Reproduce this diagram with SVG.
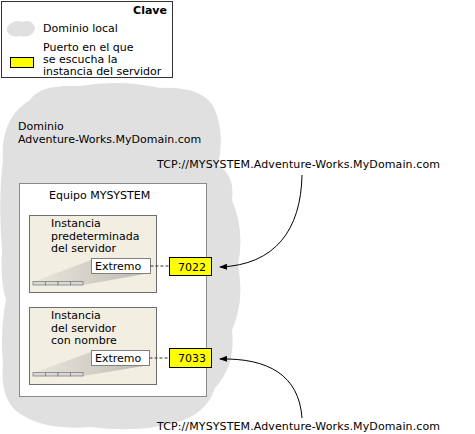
<svg xmlns="http://www.w3.org/2000/svg" width="475" height="434" viewBox="0 0 475 434">
<style>
text{font-family:"DejaVu Sans",Verdana,sans-serif;font-size:11px;fill:#000}
.cloud{fill:#e0e0e0}
.inst{fill:#f3eee2;stroke:#6e6e6e;stroke-width:1}
.ext{fill:#fff;stroke:#808080;stroke-width:1}
.port{fill:#ffff00;stroke:#000;stroke-width:1}
.dash{stroke:#333;stroke-width:1;stroke-dasharray:3,2;fill:none}
.conn{stroke:#000;stroke-width:1;fill:none;marker-end:url(#ah)}
.bar{fill:#d8d8d8;stroke:#808080;stroke-width:0.8}
</style>
<defs>
<marker id="ah" viewBox="0 0 8 6" refX="7" refY="3" markerWidth="8" markerHeight="6" orient="auto" markerUnits="userSpaceOnUse">
<path d="M0,0 L8,3 L0,6 Z" fill="#000"/>
</marker>
<linearGradient id="wg" x1="0" y1="0" x2="1" y2="0">
<stop offset="0" stop-color="#ebe6dc"/>
<stop offset="1" stop-color="#bdb9b2"/>
</linearGradient>
</defs>
<g id="legend">
<rect x="1.5" y="1.5" width="171" height="76" fill="#fff" stroke="#333" stroke-width="1"/>
<text x="167" y="14" text-anchor="end" font-weight="bold">Clave</text>
<path class="cloud" d="M10,24 Q16,19 22,22 Q30,19 33,24 Q37,28 33,33 Q28,38 20,36 Q12,38 8,33 Q5,28 10,24 Z"/>
<text x="43" y="32">Dominio local</text>
<rect class="port" x="10.5" y="57.5" width="23" height="10"/>
<text x="43" y="51">Puerto en el que</text>
<text x="43" y="63">se escucha la</text>
<text x="43" y="75">instancia del servidor</text>
</g>
<g id="domain">
<path class="cloud" d="M30,100 Q40,84 80,86 Q120,79 160,88 Q205,86 215,110 Q225,135 218,165 Q235,175 232,200 Q245,230 238,265 Q245,300 232,330 Q236,365 215,388 Q205,420 160,426 Q130,432 90,427 Q40,431 15,410 Q0,395 3,365 Q0,330 6,300 Q0,280 2,250 Q-2,200 3,160 Q0,118 30,100 Z"/>
<text x="18" y="130">Dominio</text>
<text x="18" y="143">Adventure-Works.MyDomain.com</text>
</g>
<g id="computer">
<rect x="19.5" y="183.5" width="187" height="213" fill="#fff" stroke="#8a8a8a" stroke-width="1"/>
<text x="49" y="199">Equipo MYSYSTEM</text>
</g>
<g id="instance1">
<rect class="inst" x="29.5" y="215.5" width="127" height="77"/>
<text x="51" y="227">Instancia</text>
<text x="51" y="240">predeterminada</text>
<text x="51" y="252">del servidor</text>
<polygon points="33,282 91,260 150,273 83,285" fill="url(#wg)"/>
<rect class="bar" x="33" y="281.5" width="12.5" height="3.5"/>
<rect class="bar" x="45.5" y="281.5" width="12.5" height="3.5"/>
<rect class="bar" x="58" y="281.5" width="12.5" height="3.5"/>
<rect class="bar" x="70.5" y="281.5" width="12.5" height="3.5"/>
<rect class="ext" x="91.5" y="258.5" width="59" height="15"/>
<text x="95" y="270">Extremo</text>
</g>
<g id="port1">
<rect class="port" x="169.5" y="257.5" width="42" height="18"/>
<text x="206" y="271" text-anchor="end">7022</text>
</g>
<g id="instance2">
<rect class="inst" x="29.5" y="307.5" width="127" height="77"/>
<text x="51" y="319">Instancia</text>
<text x="51" y="332">del servidor</text>
<text x="51" y="344">con nombre</text>
<polygon points="33,373 91,352 150,365 83,376" fill="url(#wg)"/>
<rect class="bar" x="33" y="372.5" width="12.5" height="3.5"/>
<rect class="bar" x="45.5" y="372.5" width="12.5" height="3.5"/>
<rect class="bar" x="58" y="372.5" width="12.5" height="3.5"/>
<rect class="bar" x="70.5" y="372.5" width="12.5" height="3.5"/>
<rect class="ext" x="91.5" y="350.5" width="58" height="15"/>
<text x="95" y="362">Extremo</text>
</g>
<g id="port2">
<rect class="port" x="169.5" y="348.5" width="42" height="19"/>
<text x="206" y="362" text-anchor="end">7033</text>
</g>
<g id="url1"><text x="157" y="168" textLength="283">TCP://MYSYSTEM.Adventure-Works.MyDomain.com</text></g>
<g id="url2"><text x="157" y="430" textLength="283">TCP://MYSYSTEM.Adventure-Works.MyDomain.com</text></g>
<g id="connectors">
<line class="dash" x1="150.5" y1="266" x2="169" y2="266"/>
<line class="dash" x1="149.5" y1="358" x2="169" y2="358"/>
<path class="conn" d="M302,175 C301,230 275,265 220,267"/>
<path class="conn" d="M302,418 C299,375 268,358 220,359"/>
</g>
</svg>
